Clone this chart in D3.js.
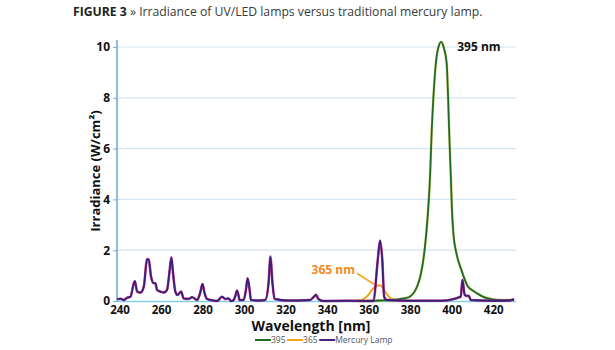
<!DOCTYPE html>
<html><head><meta charset="utf-8">
<script src="https://cdn.jsdelivr.net/npm/d3@7"></script>
<style>
html,body{margin:0;padding:0;background:#fff;}
svg{display:block;font-family:"Open Sans",sans-serif;}
</style></head>
<body><svg id="c" width="615" height="350"></svg>
<script>
// ---- data ----
const seriesNames = ["395", "365", "Mercury Lamp"];
const yTicks = [0, 2, 4, 6, 8, 10];
const xTicks = [240, 260, 280, 300, 320, 340, 360, 380, 400, 420];

const led395 = [[355,0],[365,0.02],[372,0.05],[377,0.1],[380,0.18],[382,0.35],[383.5,0.6],[385,1.0],[386.5,1.7],[387.8,2.67],[389,4.0],[389.6,4.9],[390.4,6.7],[391.2,8.0],[392.4,9.36],[393.5,9.95],[395,10.2],[396.3,9.95],[397.6,9.36],[398.3,8.0],[398.8,6.7],[399.6,4.9],[400.2,3.5],[400.8,2.7],[402.3,1.88],[404.7,1.22],[407.9,0.56],[410,0.42],[412.7,0.28],[415,0.17],[417.5,0.1],[422,0.04],[430,0.03]];

const led365 = [[350,0],[356,0.02],[358,0.1],[360,0.25],[362,0.48],[364,0.6],[365.5,0.62],[367,0.5],[368.5,0.3],[370,0.15],[372,0.06],[375,0.02],[380,0]];

const mercury = [[238.9,0.07],[240.5,0.09],[242.1,0.04],[243.7,0.13],[245.3,0.17],[246.9,0.7],[247.4,0.78],[248.5,0.37],[250.1,0.33],[251.7,0.56],[253.3,1.65],[254.1,1.62],[255.2,0.96],[256.5,0.7],[257.3,0.7],[258.1,0.43],[259.7,0.37],[261.3,0.33],[262.9,0.43],[264,1.09],[265,1.72],[265.8,1.09],[266.9,0.37],[268,0.24],[269.7,0.37],[270.9,0.1],[273.3,0.08],[275,0.15],[277.4,0.04],[278.8,0.3],[280,0.67],[281,0.3],[282.2,0.08],[283.8,0.04],[287,0.0],[289.4,0.17],[291,0.08],[292.6,0.1],[293.7,0],[295,0.04],[295.8,0.2],[296.6,0.41],[297.4,0.2],[297.8,0.04],[299.8,0.04],[300.9,0.43],[301.7,0.89],[302.7,0.43],[303.3,0.04],[306.2,0.02],[310.2,0.04],[311.8,0.7],[312.7,1.75],[313.7,0.7],[314.7,0.08],[320.6,0.02],[331.8,0.04],[333.7,0.17],[334.7,0.24],[335.8,0.08],[338.2,0],[350,0.01],[362.3,0],[364.4,1.61],[365.5,2.38],[366.6,1.61],[367.5,0.17],[368.7,0.04],[380,0.01],[395,0.01],[404.4,0.17],[405.2,0.83],[406.3,0.24],[407.2,0.2],[408.3,0.2],[409.2,0.04],[420,0.01],[428,0.02],[429.6,0.06],[430,0.04]];

const annotations = [{text:"395 nm", x:395, y:10.2}, {text:"365 nm", x:365, y:0.62}];

// ---- chart ----
const svg = d3.select("#c");
const x = d3.scaleLinear().domain([238.8, 431]).range([117, 516]);
const y = d3.scaleLinear().domain([0, 10]).range([301, 47]);

// title
const t = svg.append("text").attr("x", 73).attr("y", 16).attr("font-size", 12.2).attr("fill", "#3a3a3a");
t.append("tspan").attr("font-weight", "bold").attr("fill", "#222").text("FIGURE 3");
t.append("tspan").text(" \u00BB Irradiance of UV/LED lamps versus traditional mercury lamp.");

// gridlines
svg.append("g").selectAll("line").data(yTicks.filter(d => d > 0)).join("line")
  .attr("x1", 117).attr("x2", 516).attr("y1", d => y(d)).attr("y2", d => y(d))
  .attr("stroke", "#d5e5f1").attr("stroke-width", 1.2);

// y axis
const yAxis = svg.append("g").attr("transform", "translate(117,0)")
  .call(d3.axisLeft(y).tickValues(yTicks).tickSize(4).tickPadding(3));
yAxis.select(".domain").remove();
yAxis.selectAll(".tick line").attr("stroke", "#7aaed3");
yAxis.selectAll(".tick text").attr("font-size", 12).attr("font-weight", "bold").attr("fill", "#111")
  .attr("font-family", "Open Sans");
svg.append("line").attr("x1", 117).attr("x2", 117).attr("y1", 40).attr("y2", 301)
  .attr("stroke", "#6ea6d0").attr("stroke-width", 1.5);

// x axis
const xAxis = svg.append("g").attr("transform", "translate(0,301)")
  .call(d3.axisBottom(x).tickValues(xTicks).tickSize(0).tickPadding(5).tickFormat(d3.format("d")));
xAxis.select(".domain").remove();
xAxis.selectAll(".tick text").attr("font-size", 11.5).attr("font-weight", "bold").attr("fill", "#111")
  .attr("font-family", "Open Sans");

// baseline
svg.append("line").attr("x1", 117).attr("x2", 516).attr("y1", y(0) + 0.5).attr("y2", y(0) + 0.5)
  .attr("stroke", "#7fcfe6").attr("stroke-width", 1.5);

const line = d3.line().x(d => x(d[0])).y(d => y(d[1])).curve(d3.curveMonotoneX);

// 365 LED
svg.append("path").datum(led365).attr("d", line).attr("fill", "none")
  .attr("stroke", "#f5a31a").attr("stroke-width", 2);
// 395 LED
svg.append("path").datum(led395).attr("d", line).attr("fill", "none")
  .attr("stroke", "#c9c23a").attr("stroke-width", 2.8).attr("opacity", 0.5);
svg.append("path").datum(led395).attr("d", line).attr("fill", "none")
  .attr("stroke", "#1d6a25").attr("stroke-width", 1.8);
// Mercury lamp
svg.append("path").datum(mercury).attr("d", line).attr("fill", "none")
  .attr("stroke", "#c2207a").attr("stroke-width", 2.6).attr("opacity", 0.8);
svg.append("path").datum(mercury).attr("d", line).attr("fill", "none")
  .attr("stroke", "#3a1f78").attr("stroke-width", 1.8);

// annotations
svg.append("text").attr("x", x(annotations[0].x) + 16).attr("y", y(annotations[0].y) + 9)
  .attr("font-size", 12).attr("font-weight", "bold").attr("fill", "#111").text(annotations[0].text);
svg.append("text").attr("x", x(annotations[1].x) - 24).attr("y", y(annotations[1].y) - 11)
  .attr("text-anchor", "end").attr("font-size", 12).attr("font-weight", "bold").attr("fill", "#f28a1e")
  .text(annotations[1].text);
svg.append("line").attr("x1", x(annotations[1].x) - 22).attr("y1", y(annotations[1].y) - 12)
  .attr("x2", x(annotations[1].x) - 5).attr("y2", y(annotations[1].y) - 1)
  .attr("stroke", "#f5a31a").attr("stroke-width", 1.5);

// axis titles
svg.append("text").attr("transform", "translate(100,171) rotate(-90)").attr("text-anchor", "middle")
  .attr("font-size", 13).attr("font-weight", "bold").attr("fill", "#111").text("Irradiance (W/cm\u00B2)");
svg.append("text").attr("x", 311).attr("y", 331).attr("text-anchor", "middle")
  .attr("font-size", 14).attr("font-weight", "bold").attr("fill", "#111").text("Wavelength [nm]");

// legend
const colors = ["#1d6a25", "#f5a31a", "#4a2382"];
const lg = svg.append("g").attr("font-size", 8.5).attr("fill", "#555");
let lx = 255;
seriesNames.forEach((n, i) => {
  lg.append("line").attr("x1", lx).attr("x2", lx + 16).attr("y1", 340).attr("y2", 340)
    .attr("stroke", colors[i]).attr("stroke-width", 2);
  const tx = lg.append("text").attr("x", lx + 16).attr("y", 343).text(n);
  lx = lx + 16 + tx.node().getComputedTextLength() + 1.5;
});
</script></body></html>
